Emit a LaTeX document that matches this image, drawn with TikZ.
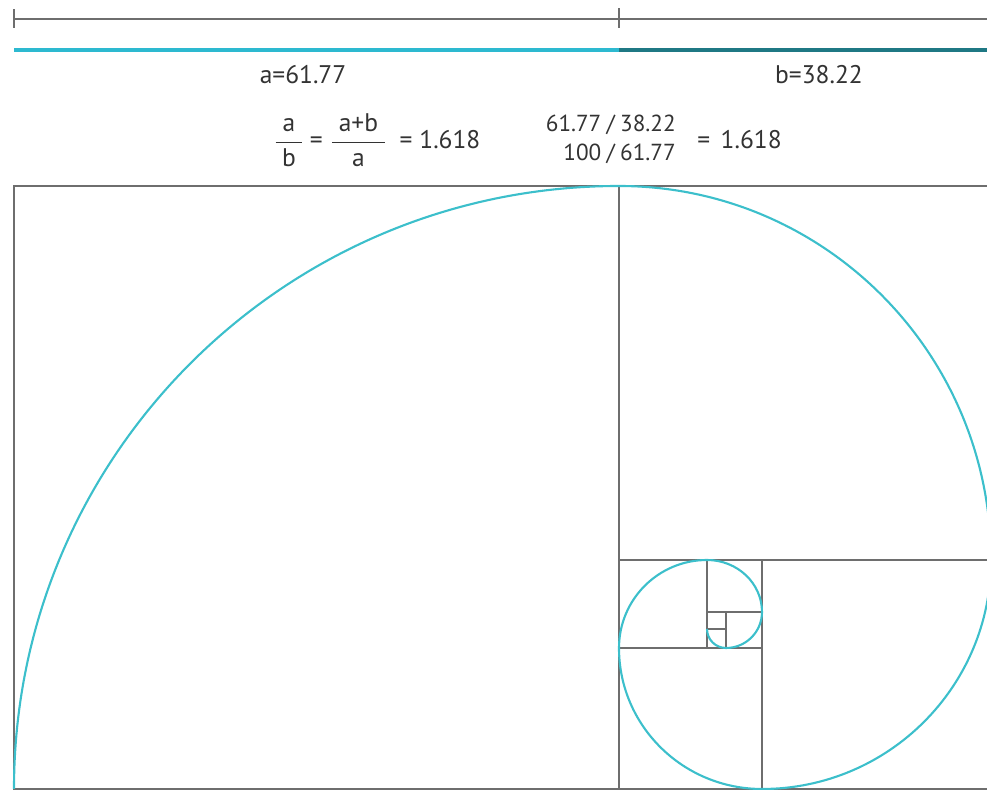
\documentclass[tikz,border=0pt]{standalone}
\usepackage{amsmath}
\usepackage{fontspec}
\setmainfont{PT Sans}
\usepackage{xcolor}
\usepackage{tikz}

\definecolor{linegray}{HTML}{6E6E6E}
\definecolor{textgray}{HTML}{333333}
\definecolor{spiralcyan}{HTML}{3CBFCB}
\definecolor{barlight}{HTML}{2DB9D0}
\definecolor{bardark}{HTML}{1F7884}

\newcommand{\gfrac}[3]{$\dfrac{\hspace{#3}\text{#1}\hspace{#3}}{\text{#2}}$}

\begin{document}
\begin{tikzpicture}[
  x=0.02cm, y=0.02cm,
  frame/.style={draw=linegray, line width=0.75pt},
  spiral/.style={draw=spiralcyan, line width=1.2pt},
  bar/.style={line width=2.8pt},
  lbl/.style={font=\fontsize{14.5}{17}\selectfont, text=textgray, inner sep=0pt}
]
\useasboundingbox (0,0) rectangle (987,790);
\clip (0,0) rectangle (987,790);

% ruler and bars
\draw[frame] (14,771) -- (987,771);
\draw[frame] (14,762) -- (14,781);
\draw[frame] (619,762) -- (619,782);
\draw[bar, draw=barlight] (14,740) -- (619,740);
\draw[bar, draw=bardark] (619,740) -- (987,740);

\node[lbl] (alen) at (303,715) {a=61.77};
\node[lbl] (blen) at (819,715) {b=38.22};
\node[lbl] (ratio) at (377,650) {\gfrac{a}{b}{4pt}\hspace{3pt}=\hspace{4pt}\gfrac{a+b}{a}{4pt}\hspace{7pt}=\hspace{4pt}1.618};
\node[lbl, font=\fontsize{13.2}{17}\selectfont, anchor=east] (quot) at (676,650) {\begin{tabular}{@{}r@{}}61.77\hspace{3pt}/\hspace{3pt}38.22\\100\hspace{3pt}/\hspace{3pt}61.77\end{tabular}};
\node[lbl, anchor=west] (res) at (697,650) {=\hspace{6pt}1.618};

% squares
\draw[frame] (14,1) rectangle (991,604);
\draw[frame] (619,1) -- (619,604);
\draw[frame] (619,230) -- (991,230);
\draw[frame] (762,1) -- (762,230);
\draw[frame] (619,142) -- (762,142);
\draw[frame] (707,142) -- (707,230);
\draw[frame] (707,178) -- (762,178);
\draw[frame] (726,142) -- (726,178);
\draw[frame] (707,161) -- (726,161);

% spiral
\draw[spiral] (14,1)
  arc[start angle=180, end angle=90, x radius=605, y radius=603]
  arc[start angle=90, end angle=0, x radius=372, y radius=374]
  arc[start angle=0, end angle=-90, radius=229]
  arc[start angle=-90, end angle=-180, x radius=143, y radius=141]
  arc[start angle=180, end angle=90, radius=88]
  arc[start angle=90, end angle=0, x radius=55, y radius=52]
  arc[start angle=0, end angle=-90, radius=36]
  arc[start angle=-90, end angle=-180, radius=19];
\end{tikzpicture}
\end{document}
